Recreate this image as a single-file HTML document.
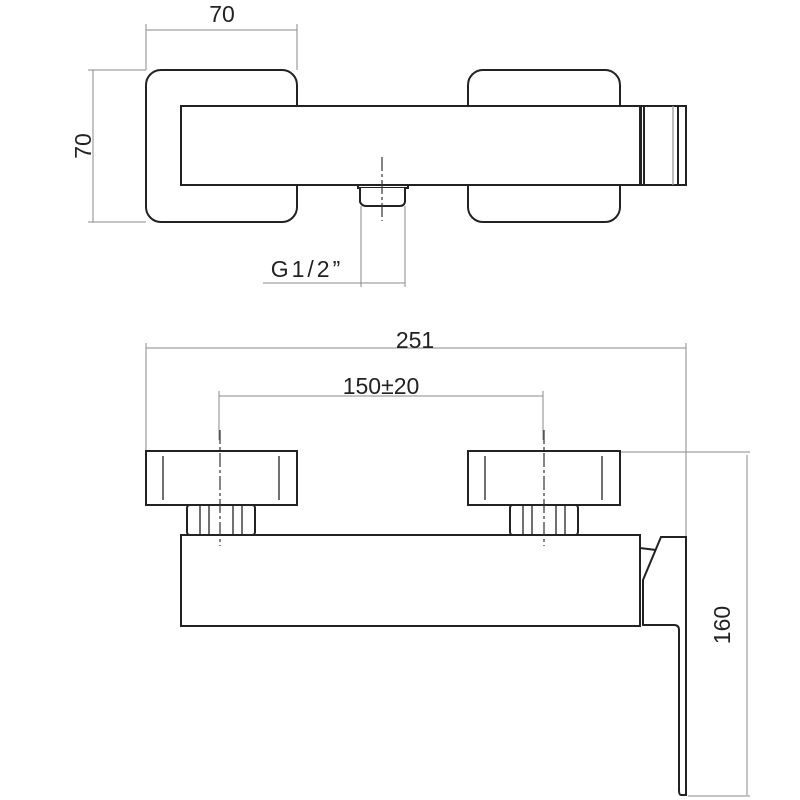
<!DOCTYPE html>
<html><head><style>body{margin:0;background:#fff}svg{display:block}</style></head><body>
<svg width="800" height="800" viewBox="0 0 800 800" xmlns="http://www.w3.org/2000/svg">
<g stroke="#888" stroke-width="1" fill="none">
<line x1="146" y1="24" x2="146" y2="70"/><line x1="297" y1="24" x2="297" y2="70"/>
<line x1="146" y1="30" x2="297" y2="30"/>
<line x1="88" y1="70" x2="146" y2="70"/><line x1="88" y1="222" x2="146" y2="222"/>
<line x1="93" y1="70" x2="93" y2="222"/>
<line x1="361" y1="206" x2="361" y2="287"/><line x1="405" y1="206" x2="405" y2="287"/>
<line x1="263" y1="283" x2="405" y2="283"/>
<line x1="146" y1="343" x2="146" y2="450"/><line x1="686" y1="343" x2="686" y2="537"/>
<line x1="146" y1="348" x2="686" y2="348"/>
<line x1="219" y1="391" x2="219" y2="440"/><line x1="543" y1="391" x2="543" y2="440"/>
<line x1="219" y1="396" x2="543" y2="396"/>
<line x1="620" y1="452" x2="750" y2="452"/><line x1="688" y1="796" x2="750" y2="796"/>
<line x1="747" y1="455" x2="747" y2="795"/>
</g>
<g font-family="Liberation Sans, sans-serif" font-size="23" fill="#222" text-anchor="middle">
<text x="222" y="22">70</text>
<text x="0" y="0" transform="translate(91,146) rotate(-90)">70</text>
<text x="307" y="277" letter-spacing="3">G1/2”</text>
<text x="415" y="348">251</text>
<text x="381" y="394">150±20</text>
<text x="0" y="0" transform="translate(730,625) rotate(-90)">160</text>
</g>
<g stroke="#222" stroke-width="2" fill="#fff">
<rect x="146" y="70" width="151" height="152" rx="15"/>
<rect x="468" y="70" width="152" height="152" rx="15"/>
<rect x="181" y="106" width="459" height="79"/>
<rect x="641" y="106" width="45" height="79"/>
<line x1="644" y1="106" x2="644" y2="185"/>
<line x1="678" y1="106" x2="678" y2="185"/>
<rect x="358" y="185" width="50" height="3"/>
<path d="M360 188 V202 Q362 206 366 206 H400 Q404 206 405 202 V188"/>
<rect x="146" y="451" width="151" height="54"/>
<rect x="468" y="451" width="152" height="54"/>
<rect x="187" y="505" width="68" height="30" rx="3"/>
<rect x="510" y="505" width="68" height="30" rx="3"/>
<rect x="181" y="535" width="459" height="91"/>
<path d="M661 537 H686 V795 H681 Q679 795 679 790 V630 Q679 625 674 625 H643 V580 L661 537 Z"/>
<line x1="640" y1="548" x2="656" y2="550"/>
</g>
<g stroke="#222" stroke-width="1.3">
<line x1="673" y1="106" x2="673" y2="185" stroke="#999"/>
<line x1="163" y1="456" x2="163" y2="500"/><line x1="279" y1="456" x2="279" y2="500"/>
<line x1="485" y1="456" x2="485" y2="500"/><line x1="602" y1="456" x2="602" y2="500"/>
<line x1="200" y1="505" x2="200" y2="535"/><line x1="209" y1="505" x2="209" y2="535"/>
<line x1="233" y1="505" x2="233" y2="535"/><line x1="242" y1="505" x2="242" y2="535"/>
<line x1="523" y1="505" x2="523" y2="535"/><line x1="532" y1="505" x2="532" y2="535"/>
<line x1="556" y1="505" x2="556" y2="535"/><line x1="565" y1="505" x2="565" y2="535"/>
</g>
<g stroke="#333" stroke-width="1.2" stroke-dasharray="14,3,3,3">
<line x1="382" y1="157" x2="382" y2="221"/>
<line x1="220" y1="430" x2="220" y2="546"/>
<line x1="544" y1="430" x2="544" y2="546"/>
</g>
</svg>
</body></html>
